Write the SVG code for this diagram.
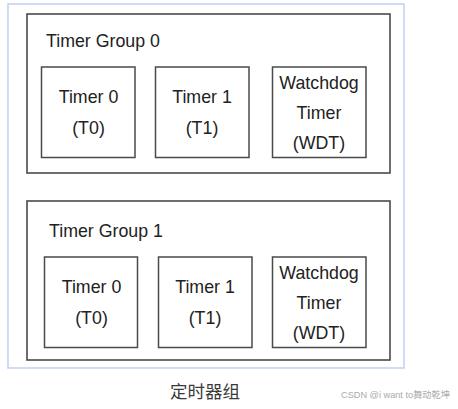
<svg xmlns="http://www.w3.org/2000/svg" width="458" height="409" viewBox="0 0 458 409">
<style>
.frame{fill:#fff;stroke:#c4d2f7;stroke-width:1.6}
.grp{fill:#fff;stroke:#4a4a4a;stroke-width:1.6}
.box{fill:#fff;stroke:#4a4a4a;stroke-width:1.5}
.t{font-family:"Liberation Sans",Arial,sans-serif;font-size:17.8px;fill:#222}
.c{text-anchor:middle}
.cap{font-family:"Liberation Sans","Noto Sans CJK SC",sans-serif;font-size:17.5px;fill:#3a3a3a}
.wm{font-family:"Liberation Sans","Noto Sans CJK SC",sans-serif;font-size:9.2px;fill:#aaaaaa}
</style>
<rect width="458" height="409" fill="#fff"/>
<rect class="frame" x="8" y="4" width="396" height="364"/>
<g id="group0">
<rect class="grp" x="27" y="14" width="363" height="159"/>
<text class="t" x="46" y="47">Timer Group 0</text>
</g>
<g id="g0t0">
<rect class="box" x="41.5" y="67" width="93.5" height="90.5"/>
<text class="t c" x="88.5" y="103">Timer 0</text>
<text class="t c" x="88.5" y="134">(T0)</text>
</g>
<g id="g0t1">
<rect class="box" x="155.5" y="67" width="93.5" height="90.5"/>
<text class="t c" x="202" y="103">Timer 1</text>
<text class="t c" x="202" y="134">(T1)</text>
</g>
<g id="g0wdt">
<rect class="box" x="272.5" y="67" width="93.5" height="90.5"/>
<text class="t c" x="319" y="89">Watchdog</text>
<text class="t c" x="319" y="119">Timer</text>
<text class="t c" x="319" y="149">(WDT)</text>
</g>
<g id="group1">
<rect class="grp" x="27" y="201" width="363" height="159"/>
<text class="t" x="49" y="237">Timer Group 1</text>
</g>
<g id="g1t0">
<rect class="box" x="44.5" y="257" width="93" height="90.5"/>
<text class="t c" x="91.5" y="293">Timer 0</text>
<text class="t c" x="91.5" y="324">(T0)</text>
</g>
<g id="g1t1">
<rect class="box" x="158.5" y="257" width="93.5" height="90.5"/>
<text class="t c" x="205" y="293">Timer 1</text>
<text class="t c" x="205" y="324">(T1)</text>
</g>
<g id="g1wdt">
<rect class="box" x="272.5" y="257" width="93.5" height="90.5"/>
<text class="t c" x="319" y="279">Watchdog</text>
<text class="t c" x="319" y="309">Timer</text>
<text class="t c" x="319" y="339">(WDT)</text>
</g>
<g id="connectors"></g>
<text class="cap" x="170" y="398">定时器组</text>
<text class="wm" x="341" y="398">CSDN @i want to舞动乾坤</text>
</svg>
